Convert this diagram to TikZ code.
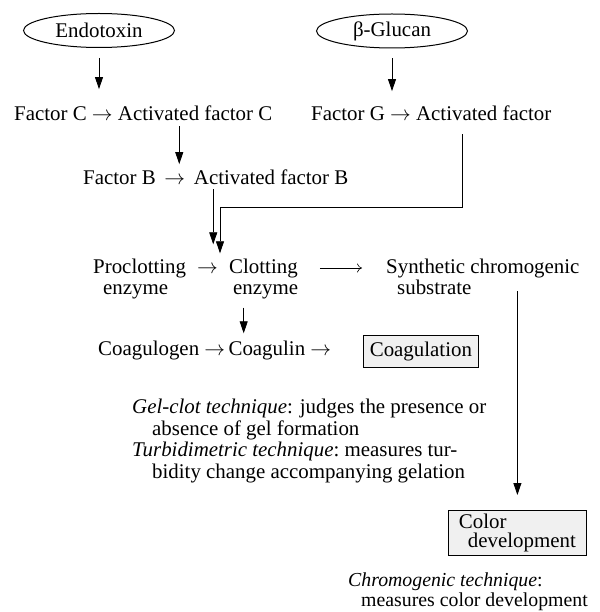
\documentclass[tikz,border=0pt]{standalone}
\usepackage{fontspec}
\setmainfont{Liberation Serif}
\usetikzlibrary{shapes.geometric,arrows.meta}
\tikzset{
  lbl/.style={inner sep=0pt, anchor=base west},
  src/.style={draw, ellipse, line width=1pt, minimum width=151pt, minimum height=34pt, inner sep=0pt},
  res/.style={draw, fill=gray!12, line width=0.8pt, inner sep=0pt, anchor=north west},
  arr/.style={-{Triangle[length=12pt,width=8pt]}, line width=0.8pt},
  glyph/.style={-{Computer Modern Rightarrow[length=5pt,width=9pt]}, line width=0.6pt},
}
\begin{document}
\begin{tikzpicture}[x=1pt,y=-1pt, font=\fontsize{20.9}{21.5}\selectfont]
\useasboundingbox (0,0) rectangle (599,612);
\node[src] (endo) at (99,30.5) {Endotoxin};
\node[src] (gluc) at (392,31) {β-Glucan};

\node[lbl] (fc) at (14,121) {Factor C $\rightarrow$ Activated factor C};
\node[lbl] (fg) at (311,121) {Factor G $\rightarrow$ Activated factor};
\node[lbl] (fb) at (83,185) {Factor B \,$\rightarrow$\, Activated factor B};

\node[lbl] (pro) at (93,273) {Proclotting};
\node[lbl] (proe) at (103,294) {enzyme};
\node[lbl] (p2c) at (197,273) {$\rightarrow$};
\node[lbl] (clot) at (229,273) {Clotting};
\node[lbl] (clote) at (233,294) {enzyme};
\node[lbl] (syn) at (386,273) {Synthetic chromogenic};
\node[lbl] (syns) at (397,294) {substrate};

\node[lbl] (cgn) at (98,355) {Coagulogen $\rightarrow$};
\node[lbl] (cgl) at ([xshift=3pt]cgn.base east) {Coagulin $\rightarrow$};
\node[res, minimum width=115pt, minimum height=32pt] (coagbox) at (363,335) {Coagulation};

% base of a multi-line node is its last line
\node[lbl, align=left] (gel) at (132,478) {\textit{Gel-clot technique}: judges the presence or\\
  \hspace*{20pt}absence of gel formation\\
  \textit{Turbidimetric\ technique}:\ measures\ tur-\\
  \hspace*{20pt}bidity change accompanying gelation};

\node[res, minimum width=138pt, minimum height=45pt, align=left] (colbox) at (448,510) {Color\\[-2.5pt]\hspace*{9pt}development};
\node[lbl, align=left, font=\fontsize{19.8}{21.5}\selectfont] (chrom) at (348,606) {\textit{Chromogenic technique}:\\[-2pt]
  \hspace*{13pt}measures color development};

\coordinate (join) at (220,207);

\draw[arr] ([yshift=-10pt]endo.south) -- ([yshift=17pt]endo.south |- fc.north);
\draw[arr] ([yshift=-10pt]gluc.south) -- ([yshift=15pt]gluc.south |- fg.north);
\draw[arr] ([xshift=36pt,yshift=-5pt]fc.south) -- ([xshift=36pt,yshift=6pt]fc.south |- fb.north);
\draw[arr] ([xshift=-2.5pt,yshift=-4pt]fb.south) -- ([xshift=-2.5pt,yshift=14pt]fb.south |- pro.north);
\draw[arr] ([xshift=31.5pt,yshift=-12.6pt]fg.south) |- (join) -- ([yshift=5pt]join |- clot.north);
\draw[glyph] ([xshift=22pt]clot.east) -- ([xshift=-24pt]clot.east -| syn.west);
\draw[arr] ([xshift=-22pt,yshift=-9pt]clote.south) -- ([xshift=-22pt,yshift=7pt]clote.south |- cgl.north);
\draw[arr] ([yshift=-13.6pt]syn.south -| colbox.north) -- ([yshift=15pt]colbox.north);
\end{tikzpicture}
\end{document}
